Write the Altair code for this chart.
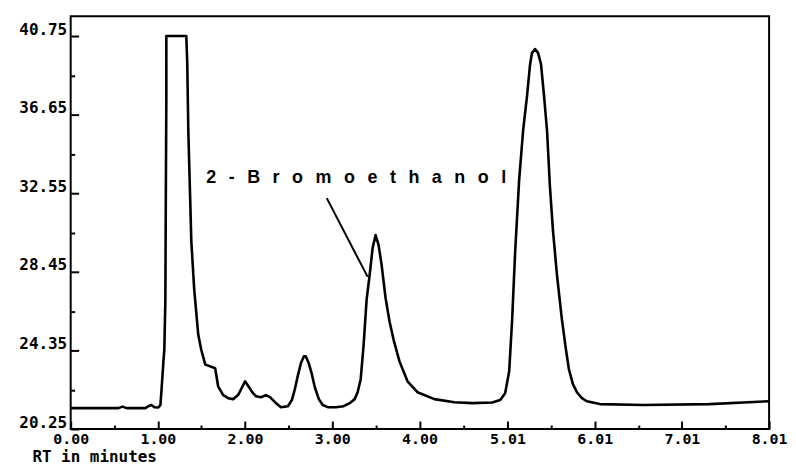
import altair as alt
import pandas as pd

# Retention time (minutes) and detector signal
rt = [0.000, 0.549, 0.594, 0.640, 0.857, 0.891, 0.926, 0.960, 1.006, 1.029,
      1.040, 1.063, 1.074, 1.086, 1.091, 1.097, 1.097, 1.326, 1.337, 1.349,
      1.371, 1.383, 1.417, 1.463, 1.497, 1.543, 1.600, 1.657, 1.691, 1.749,
      1.806, 1.863, 1.920, 1.966, 2.000, 2.046, 2.091, 2.126, 2.183, 2.240,
      2.286, 2.343, 2.411, 2.491, 2.537, 2.571, 2.606, 2.640, 2.674, 2.697,
      2.731, 2.766, 2.800, 2.846, 2.891, 2.949, 3.040, 3.131, 3.200, 3.257,
      3.291, 3.326, 3.360, 3.394, 3.429, 3.463, 3.497, 3.531, 3.566, 3.611,
      3.657, 3.703, 3.771, 3.863, 3.977, 4.171, 4.400, 4.606, 4.834, 4.926,
      4.983, 5.029, 5.063, 5.097, 5.143, 5.189, 5.234, 5.269, 5.291, 5.326,
      5.360, 5.394, 5.429, 5.463, 5.497, 5.531, 5.577, 5.634, 5.680, 5.714,
      5.760, 5.806, 5.863, 5.920, 6.069, 6.571, 7.326, 8.010]
signal = [21.34, 21.34, 21.42, 21.34, 21.34, 21.44, 21.50, 21.39, 21.37, 21.50,
          22.17, 23.73, 24.40, 27.00, 32.19, 37.38, 40.76, 40.76, 39.36, 35.83,
          32.19, 30.11, 27.52, 25.18, 24.40, 23.62, 23.52, 23.42, 22.48, 22.02,
          21.86, 21.81, 22.02, 22.43, 22.74, 22.43, 22.12, 21.96, 21.91, 22.02,
          21.91, 21.65, 21.39, 21.44, 21.76, 22.33, 23.05, 23.68, 24.04, 24.04,
          23.68, 23.11, 22.43, 21.81, 21.50, 21.39, 21.39, 21.44, 21.60, 21.81,
          22.17, 22.85, 24.66, 27.00, 28.30, 29.70, 30.37, 29.86, 28.82, 27.10,
          25.86, 24.92, 23.78, 22.74, 22.17, 21.81, 21.65, 21.60, 21.63, 21.76,
          22.12, 23.26, 25.96, 29.44, 33.23, 35.83, 37.64, 39.30, 39.88, 40.08,
          39.88, 39.30, 37.64, 35.83, 32.87, 30.63, 28.30, 25.96, 24.40, 23.37,
          22.59, 22.17, 21.86, 21.70, 21.55, 21.50, 21.55, 21.70]

x_major = [0.0, 1.0, 2.0, 3.0, 4.0, 5.01, 6.01, 7.01, 8.01]
x_minor = [0.5, 1.5, 2.5, 3.5, 4.505, 5.51, 6.51, 7.51]
y_major = [20.25, 24.35, 28.45, 32.55, 36.65, 40.75]
y_minor = [22.3, 26.4, 30.5, 34.6, 38.7]

SP = "\u2002\u2009"
label_text = SP.join(list("2-Bromoethanol"))
label_rt = [1.554]
label_sig = [33.33]
pointer_rt = [2.937, 3.406]
pointer_sig = [32.30, 28.19]

df = pd.DataFrame({"rt": rt, "signal": signal, "i": list(range(len(rt)))})

xs = alt.Scale(domain=[0, 8.01], nice=False, zero=False)
ys = alt.Scale(domain=[20.25, 41.8], nice=False, zero=False)

FONT = "DejaVu Sans Mono"
W, H = 702, 415

line = alt.Chart(df).mark_line(color="black", strokeWidth=2.6, strokeJoin="round").encode(
    x=alt.X("rt:Q", scale=xs, axis=alt.Axis(
        values=x_major, format=".2f", orient="bottom", ticks=False, domain=False, grid=False,
        labelFont=FONT, labelFontSize=15, labelFontWeight="bold", labelColor="black",
        labelPadding=3, labelBaseline="top", labelFlush=False, labelOverlap=False,
        title="RT in minutes", titleFont=FONT, titleFontSize=16, titleFontWeight="bold",
        titleColor="black", titleX=-39, titleY=33, titleAlign="left",
        titleBaseline="alphabetic")),
    y=alt.Y("signal:Q", scale=ys, axis=alt.Axis(
        values=y_major, format=".2f", orient="left", ticks=False, domain=False, grid=False,
        labelFont=FONT, labelFontSize=16, labelFontWeight="bold", labelColor="black",
        labelPadding=4, labelBaseline="alphabetic", labelOffset=-2, labelOverlap=False,
        labelFlush=False, title=None)),
    order="i:Q",
)


def tick_layer(xvals, yvals, size):
    return alt.Chart(df).mark_line(strokeOpacity=0).encode(
        x=alt.X("rt:Q", scale=xs, axis=alt.Axis(
            values=xvals, orient="top", offset=-H, tickSize=size, tickWidth=2,
            tickColor="black", labels=False, domain=False, grid=False, title=None)),
        y=alt.Y("signal:Q", scale=ys, axis=alt.Axis(
            values=yvals, orient="right", offset=-W, tickSize=size, tickWidth=2,
            tickColor="black", labels=False, domain=False, grid=False, title=None)),
        order="i:Q",
    )


major = tick_layer(x_major, y_major, 8)
minor = tick_layer(x_minor, y_minor, 4)

text = alt.Chart(pd.DataFrame({"rt": label_rt, "signal": label_sig, "t": [label_text]})).mark_text(
    align="left", baseline="middle", font="Liberation Sans", fontSize=18,
    fontWeight="bold", color="black").encode(
    x=alt.X("rt:Q", scale=xs, axis=None),
    y=alt.Y("signal:Q", scale=ys, axis=None),
    text="t:N",
)

pointer = alt.Chart(pd.DataFrame({"rt": [pointer_rt[0]], "signal": [pointer_sig[0]],
                                  "rt2": [pointer_rt[1]], "signal2": [pointer_sig[1]]})).mark_rule(
    color="black", strokeWidth=2).encode(
    x=alt.X("rt:Q", scale=xs, axis=None),
    y=alt.Y("signal:Q", scale=ys, axis=None),
    x2="rt2:Q",
    y2="signal2:Q",
)

chart = alt.layer(line, major, minor, pointer, text).resolve_axis(
    x="independent", y="independent"
).properties(
    width=W, height=H,
    padding={"left": 63, "top": 7, "right": 19, "bottom": 35},
    autosize=alt.AutoSizeParams(type="none"),
    background="white",
).configure_view(stroke="black", strokeWidth=2)

chart.save("out.html", embed_options={"renderer": "svg", "actions": False})
